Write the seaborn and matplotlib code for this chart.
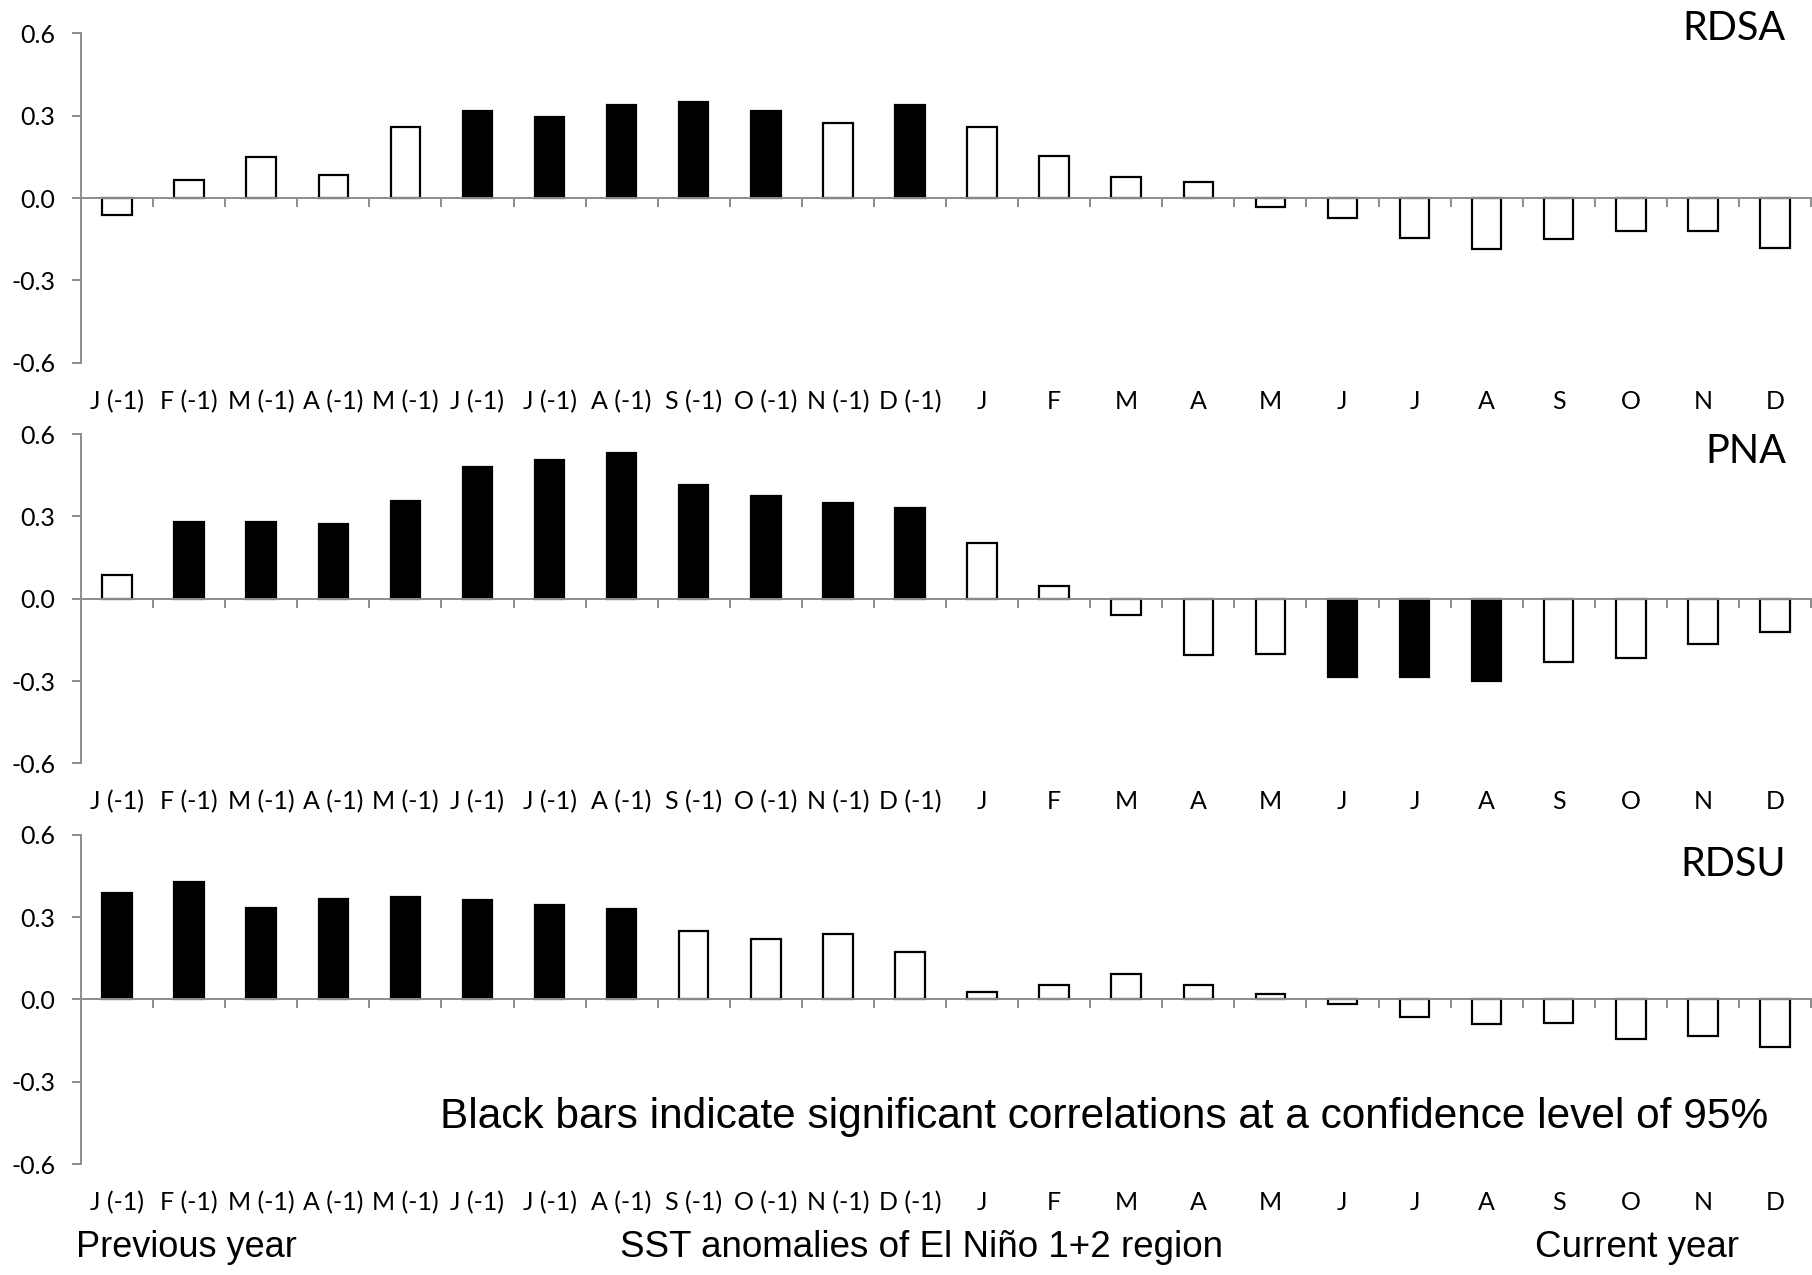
import numpy as np
import pandas as pd
import matplotlib
matplotlib.use("Agg")
import matplotlib.pyplot as plt
import seaborn as sns

# Month keys (unique) and the labels shown under each bar
month_keys = ["Jan-1", "Feb-1", "Mar-1", "Apr-1", "May-1", "Jun-1",
              "Jul-1", "Aug-1", "Sep-1", "Oct-1", "Nov-1", "Dec-1",
              "Jan", "Feb", "Mar", "Apr", "May", "Jun",
              "Jul", "Aug", "Sep", "Oct", "Nov", "Dec"]
tick_labels = ["J (-1)", "F (-1)", "M (-1)", "A (-1)", "M (-1)", "J (-1)",
               "J (-1)", "A (-1)", "S (-1)", "O (-1)", "N (-1)", "D (-1)",
               "J", "F", "M", "A", "M", "J", "J", "A", "S", "O", "N", "D"]

# Correlations with SST anomalies of the El Niño 1+2 region
rdsa = [-0.063, 0.065, 0.148, 0.084, 0.260, 0.316, 0.295, 0.339, 0.351, 0.318,
        0.273, 0.339, 0.260, 0.152, 0.078, 0.060, -0.032, -0.074, -0.146,
        -0.185, -0.148, -0.120, -0.120, -0.182]
pna = [0.085, 0.280, 0.280, 0.273, 0.357, 0.478, 0.505, 0.532, 0.416, 0.374,
       0.350, 0.329, 0.204, 0.046, -0.060, -0.204, -0.200, -0.284, -0.287,
       -0.301, -0.232, -0.215, -0.166, -0.121]
rdsu = [0.389, 0.429, 0.334, 0.366, 0.374, 0.361, 0.344, 0.329, 0.249, 0.221,
        0.237, 0.172, 0.026, 0.051, 0.094, 0.051, 0.018, -0.018, -0.065,
        -0.090, -0.085, -0.144, -0.132, -0.173]

# 1 = significant at the 95% level (black bar)
rdsa_sig = [0, 0, 0, 0, 0, 1, 1, 1, 1, 1, 0, 1, 0, 0, 0, 0, 0, 0, 0, 0, 0, 0, 0, 0]
pna_sig = [0, 1, 1, 1, 1, 1, 1, 1, 1, 1, 1, 1, 0, 0, 0, 0, 0, 1, 1, 1, 0, 0, 0, 0]
rdsu_sig = [1, 1, 1, 1, 1, 1, 1, 1, 0, 0, 0, 0, 0, 0, 0, 0, 0, 0, 0, 0, 0, 0, 0, 0]

panel_names = ["RDSA", "PNA", "RDSU"]
y_ticks = [-0.6, -0.3, 0.0, 0.3, 0.6]
y_tick_labels = ["-0.6", "-0.3", "0.0", "0.3", "0.6"]

sns.set_theme(style="white")
plt.rcParams["font.family"] = ["Lato", "DejaVu Sans"]
plt.rcParams["text.color"] = "black"

W, H = 1812, 1275
fig = plt.figure(figsize=(W / 100, H / 100), dpi=100)

axis_gray = "#8c8c8c"
left_px, right_px = 81, 1811
panel_tops = [33.3, 434.0, 834.7]
panel_h = 329.4
label_baselines = [39.5, 463, 876]

for k, (name, vals, sig) in enumerate(zip(panel_names, [rdsa, pna, rdsu],
                                          [rdsa_sig, pna_sig, rdsu_sig])):
    top = panel_tops[k]
    ax = fig.add_axes([left_px / W, 1 - (top + panel_h) / H,
                       (right_px - left_px) / W, panel_h / H])
    df = pd.DataFrame({"month": month_keys, "r": vals,
                       "sig": ["yes" if s else "no" for s in sig]})
    sns.barplot(data=df, x="month", y="r", hue="sig", order=month_keys,
                palette={"yes": "black", "no": "white"}, dodge=False,
                edgecolor="black", linewidth=1.6, width=0.41,
                legend=False, ax=ax)
    ax.set_xlim(-0.5, len(month_keys) - 0.5)
    ax.set_ylim(-0.6, 0.6)
    ax.set_xlabel("")
    ax.set_ylabel("")

    # zero line carrying the boundary ticks
    for s in ["top", "right"]:
        ax.spines[s].set_visible(False)
    ax.spines["bottom"].set_position(("data", 0))
    ax.spines["bottom"].set_color(axis_gray)
    ax.spines["bottom"].set_linewidth(1.4)
    ax.spines["left"].set_color(axis_gray)
    ax.spines["left"].set_linewidth(1.4)
    ax.set_xticks(np.arange(len(month_keys)) + 0.5)
    ax.tick_params(axis="x", which="major", direction="out", length=6.3,
                   width=1.4, color=axis_gray, labelbottom=False, bottom=True)

    ax.set_yticks(y_ticks, labels=y_tick_labels)
    ax.tick_params(axis="y", direction="out", length=6.5, width=1.4,
                   color=axis_gray, left=True, labelsize=18, pad=12,
                   labelcolor="black")

    # month labels along the bottom of each panel
    sec = ax.secondary_xaxis(0)
    sec.set_xticks(np.arange(len(month_keys)), labels=tick_labels)
    sec.tick_params(axis="x", length=0, labelsize=18, pad=19.5,
                    labelcolor="black")
    sec.spines["bottom"].set_visible(False)

    fig.text(1786 / W, 1 - label_baselines[k] / H, name, ha="right",
             va="baseline", fontsize=28.5, color="black",
             family=["Lato", "DejaVu Sans"])

arial = ["Liberation Sans", "DejaVu Sans"]
fig.text(1104 / W, 1 - 1128 / H,
         "Black bars indicate significant correlations at a confidence level of 95%",
         ha="center", va="baseline", fontsize=30.5, color="black", family=arial)
fig.text(76 / W, 1 - 1257 / H, "Previous year", ha="left", va="baseline",
         fontsize=26, color="black", family=arial)
fig.text(921.5 / W, 1 - 1257 / H, "SST anomalies of El Niño 1+2 region",
         ha="center", va="baseline", fontsize=26.5, color="black", family=arial)
fig.text(1637 / W, 1 - 1257 / H, "Current year", ha="center", va="baseline",
         fontsize=26.5, color="black", family=arial)

fig.savefig("out.png", dpi=100, facecolor="white")
